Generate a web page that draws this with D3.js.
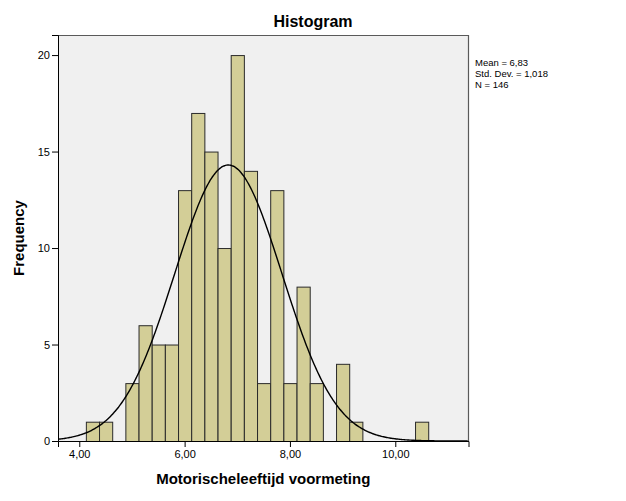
<!DOCTYPE html>
<html>
<head>
<meta charset="utf-8">
<script src="https://cdn.jsdelivr.net/npm/d3@7"></script>
<style>
  html, body { margin: 0; padding: 0; background: #fff; }
  svg { display: block; font-family: "Liberation Sans", Arial, sans-serif; }
</style>
</head>
<body>
<svg id="chart" width="626" height="501"></svg>
<script>
// ---- data ----
const binLower = [4.125, 4.375, 4.625, 4.875, 5.125, 5.375, 5.625, 5.875, 6.125, 6.375,
                  6.625, 6.875, 7.125, 7.375, 7.625, 7.875, 8.125, 8.375, 8.625, 8.875,
                  9.125, 9.375, 9.625, 9.875, 10.125, 10.375];
const counts   = [1, 1, 0, 3, 6, 5, 5, 13, 17, 15,
                  10, 20, 14, 3, 13, 3, 8, 3, 0, 4,
                  1, 0, 0, 0, 0, 1];
const binWidth = 0.25;
const xTicks = [4, 6, 8, 10];
const xTickLabels = ["4,00", "6,00", "8,00", "10,00"];
const yTicks = [0, 5, 10, 15, 20];
const statsLines = ["Mean = 6,83", "Std. Dev. = 1,018", "N = 146"];
const mean = 6.83, sd = 1.018, nTotal = 146;

// ---- layout ----
const svg = d3.select("#chart");
const L = 58, R = 468.5, T = 35, B = 441;

const x = d3.scaleLinear().domain([3.596, 11.39]).range([L, R]);
const y = d3.scaleLinear().domain([0, 21.04]).range([B, T]);

// plot background
svg.append("rect")
  .attr("x", L).attr("y", T).attr("width", R - L).attr("height", B - T)
  .attr("fill", "#f0f0f0");

svg.append("defs").append("clipPath").attr("id", "clip")
  .append("rect").attr("x", L).attr("y", T).attr("width", R - L).attr("height", B - T);

// bars
const bars = binLower.map((lo, i) => ({ lo, hi: lo + binWidth, c: counts[i] })).filter(d => d.c > 0);
svg.append("g").selectAll("rect").data(bars).join("rect")
  .attr("x", d => x(d.lo) + 0.5)
  .attr("y", d => y(d.c) + 0.5)
  .attr("width", d => x(d.hi) - x(d.lo))
  .attr("height", d => B - y(d.c))
  .attr("fill", "#d3ce97")
  .attr("stroke", "#2a2a2a")
  .attr("stroke-width", 1);

// normal curve
const scale = nTotal * binWidth;
const pdf = v => scale * Math.exp(-0.5 * ((v - mean) / sd) ** 2) / (sd * Math.sqrt(2 * Math.PI));
const xs = d3.range(3.596, 11.39, 0.02);
const line = d3.line().x(d => x(d)).y(d => y(pdf(d))).curve(d3.curveBasis);
svg.append("path")
  .datum(xs)
  .attr("clip-path", "url(#clip)")
  .attr("d", line)
  .attr("fill", "none")
  .attr("stroke", "#000")
  .attr("stroke-width", 1.4);

// frame (top and right)
svg.append("path")
  .attr("d", `M${L},${T + 0.5}H${R}M${R},${T}V${B}`)
  .attr("fill", "none").attr("stroke", "#5a5a5a").attr("stroke-width", 1.2);

// axes
const xAxis = d3.axisBottom(x).tickValues(xTicks)
  .tickFormat((d, i) => xTickLabels[i]).tickSize(6).tickPadding(3);
const gx = svg.append("g").attr("transform", `translate(0,${B})`).call(xAxis);
gx.select(".domain").attr("stroke", "#000");
gx.selectAll("text").attr("font-size", "11px").attr("font-family", "Liberation Sans, Arial, sans-serif").attr("fill", "#000");

const yAxis = d3.axisLeft(y).tickValues(yTicks).tickSize(6).tickPadding(2);
const gy = svg.append("g").attr("transform", `translate(${L},0)`).call(yAxis);
gy.select(".domain").attr("stroke", "#000");
gy.selectAll("text").attr("font-size", "11px").attr("font-family", "Liberation Sans, Arial, sans-serif").attr("fill", "#000");

// title
svg.append("text").attr("x", 313).attr("y", 27).attr("text-anchor", "middle")
  .attr("font-size", "16px").attr("font-weight", "bold").text("Histogram");

// axis titles
svg.append("text").attr("x", (L + R) / 2).attr("y", 484).attr("text-anchor", "middle")
  .attr("font-size", "15px").attr("font-weight", "bold").text("Motorischeleeftijd voormeting");

svg.append("text")
  .attr("transform", `translate(24,${(T + B) / 2}) rotate(-90)`)
  .attr("text-anchor", "middle")
  .attr("font-size", "15px").attr("font-weight", "bold").text("Frequency");

// stats
svg.append("g").selectAll("text").data(statsLines).join("text")
  .attr("x", 475).attr("y", (d, i) => 65.5 + i * 11)
  .attr("font-size", "9.5px").text(d => d);
</script>
</body>
</html>
